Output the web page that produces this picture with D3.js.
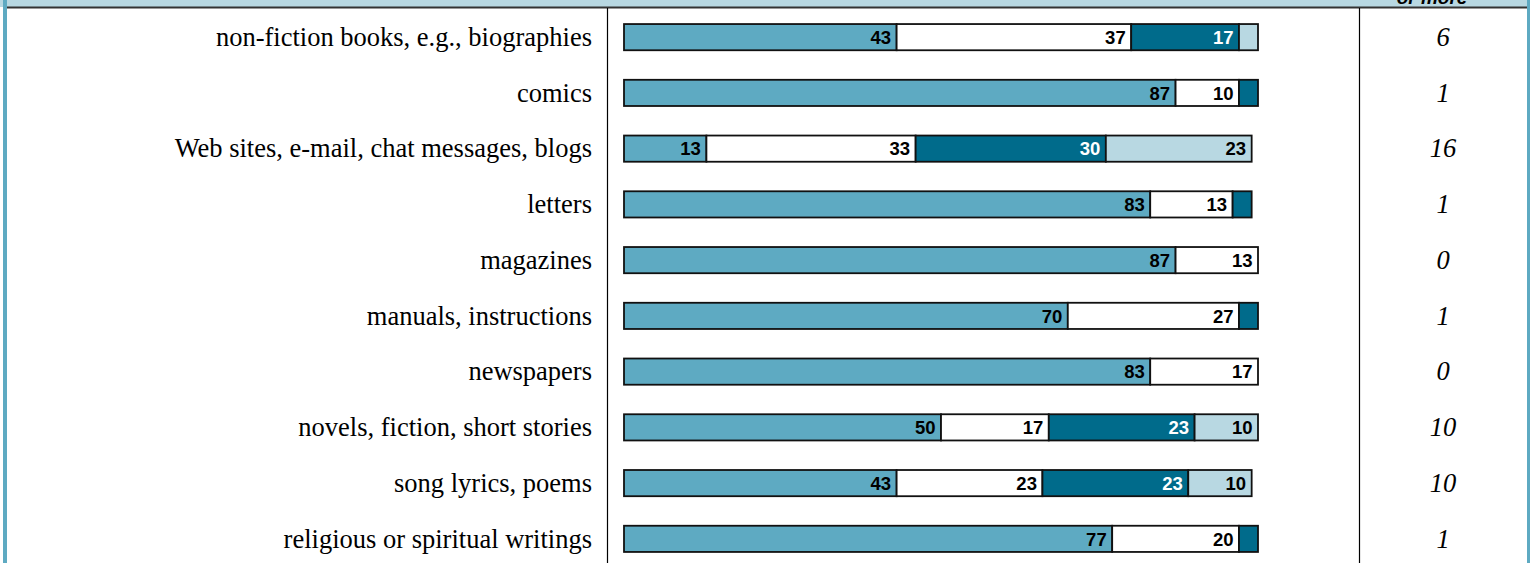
<!DOCTYPE html>
<html>
<head>
<meta charset="utf-8">
<script src="https://cdn.jsdelivr.net/npm/d3@7/dist/d3.min.js"></script>
<style>
  html, body { margin: 0; padding: 0; background: #fff; }
  svg { display: block; }
</style>
</head>
<body>
<svg id="chart" width="1530" height="563"></svg>
<script>
// ---- data ----
const categories = [
  "non-fiction books, e.g., biographies",
  "comics",
  "Web sites, e-mail, chat messages, blogs",
  "letters",
  "magazines",
  "manuals, instructions",
  "newspapers",
  "novels, fiction, short stories",
  "song lyrics, poems",
  "religious or spiritual writings"
];
const seriesA = [43, 87, 13, 83, 87, 70, 83, 50, 43, 77];
const seriesB = [37, 10, 33, 13, 13, 27, 17, 17, 23, 20];
const seriesC = [17, 3, 30, 3, 0, 3, 0, 23, 23, 3];
const seriesD = [3, 0, 23, 0, 0, 0, 0, 10, 10, 0];
const rightColumn = ["6", "1", "16", "1", "0", "1", "0", "10", "10", "1"];
const headerText = "or more";

// ---- layout ----
const W = 1530, H = 563;
const svg = d3.select("#chart");
const colors = ["#5eaac2", "#ffffff", "#006b8b", "#b8d8e2"];
const labelColors = ["#000", "#000", "#fff", "#000"];
const serif = "'Liberation Serif', 'Times New Roman', Times, serif";
const sans = "'Liberation Sans', Arial, Helvetica, sans-serif";

const x = d3.scaleLinear().domain([0, 100]).range([624, 1258]);
const y = d3.scaleBand().domain(categories).range([9, 567]).paddingInner(0.53).paddingOuter(0.27);

// header strip
svg.append("rect").attr("x", 0).attr("y", 0).attr("width", W).attr("height", 7).attr("fill", "#b8d8e2");
svg.append("text").attr("x", 1432).attr("y", 4).attr("text-anchor", "middle")
  .attr("font-family", sans).attr("font-weight", "bold")
  .attr("font-style", "italic").attr("font-size", 19).attr("fill", "#000").text(headerText);
svg.append("line").attr("x1", 7).attr("x2", 1527).attr("y1", 7.5).attr("y2", 7.5).attr("stroke", "#333").attr("stroke-width", 2);

// side borders
svg.append("rect").attr("x", 3).attr("y", 0).attr("width", 4).attr("height", H).attr("fill", "#5eaac2");
svg.append("rect").attr("x", 1527).attr("y", 0).attr("width", 3).attr("height", H).attr("fill", "#5eaac2");

// column dividers
[607.5, 1359.5].forEach(cx => {
  svg.append("line").attr("x1", cx).attr("x2", cx).attr("y1", 8).attr("y2", H)
    .attr("stroke", "#000").attr("stroke-width", 1.2);
});

const series = [seriesA, seriesB, seriesC, seriesD];
const rows = categories.map((c, i) => {
  let acc = 0;
  const segs = series.map((s, k) => {
    const seg = { cat: c, k, v: s[i], x0: acc, x1: acc + s[i] };
    acc += s[i];
    return seg;
  }).filter(d => d.v > 0);
  return { cat: c, segs, right: rightColumn[i] };
});

const g = svg.append("g");
const rowG = g.selectAll("g.row").data(rows).join("g").attr("class", "row");

// labels
rowG.append("text")
  .attr("x", 592)
  .attr("y", d => y(d.cat) + y.bandwidth() / 2)
  .attr("dy", "0.33em")
  .attr("text-anchor", "end")
  .attr("font-family", serif)
  .attr("font-size", 26.5)
  .attr("fill", "#000")
  .text(d => d.cat);

// segments
rowG.selectAll("rect.seg").data(d => d.segs).join("rect").attr("class", "seg")
  .attr("x", d => x(d.x0))
  .attr("y", d => y(d.cat))
  .attr("width", d => x(d.x1) - x(d.x0))
  .attr("height", y.bandwidth())
  .attr("fill", d => colors[d.k])
  .attr("stroke", "#111")
  .attr("stroke-width", 1.8);

rowG.selectAll("text.val").data(d => d.segs.filter(s => s.v >= 10)).join("text").attr("class", "val")
  .attr("x", d => x(d.x1) - 5.5)
  .attr("y", d => y(d.cat) + y.bandwidth() / 2)
  .attr("dy", "0.36em")
  .attr("text-anchor", "end")
  .attr("font-family", sans)
  .attr("font-weight", "bold")
  .attr("font-size", 18.5)
  .attr("fill", d => labelColors[d.k])
  .text(d => d.v);

// right column
rowG.append("text")
  .attr("x", 1443)
  .attr("y", d => y(d.cat) + y.bandwidth() / 2)
  .attr("dy", "0.33em")
  .attr("text-anchor", "middle")
  .attr("font-family", serif)
  .attr("font-style", "italic")
  .attr("font-size", 26.5)
  .attr("fill", "#000")
  .text(d => d.right);
</script>
</body>
</html>
